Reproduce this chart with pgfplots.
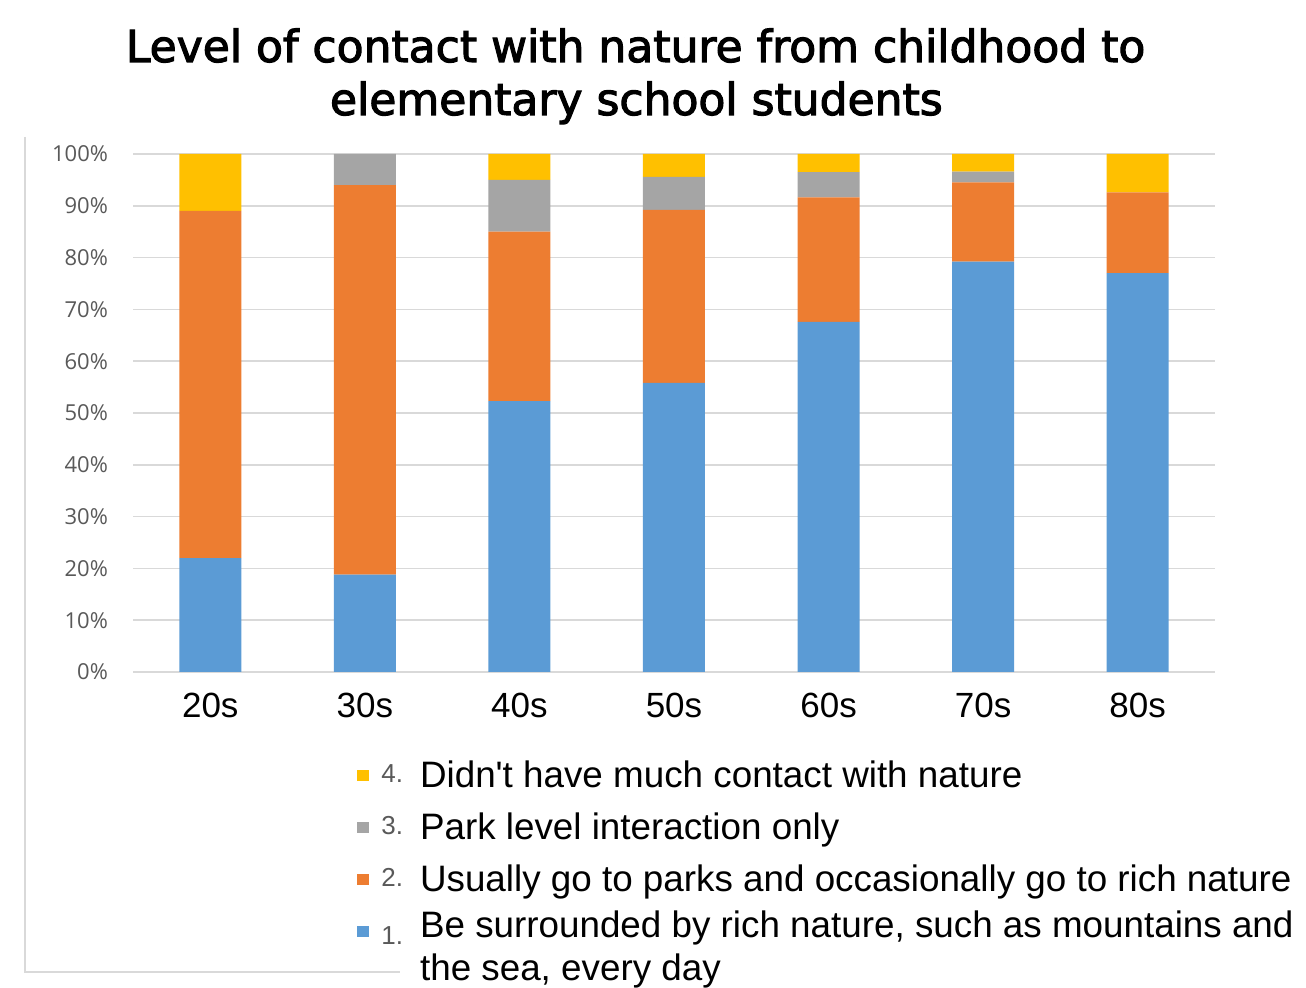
\documentclass[border=0pt]{standalone}
\usepackage{pgfplots}
\pgfplotsset{compat=1.18}
\usepackage{fontspec}
\setmainfont{Liberation Sans}
\newfontfamily\titlefont[FakeBold=2.5]{DejaVu Sans}
\newfontfamily\tickfont{Open Sans}

\definecolor{cblue}{HTML}{5B9BD5}
\definecolor{corange}{HTML}{ED7D31}
\definecolor{cgray}{HTML}{A5A5A5}
\definecolor{cyellow}{HTML}{FFC000}
\definecolor{gridc}{HTML}{D9D9D9}
\definecolor{tickc}{HTML}{595959}
\definecolor{framec}{HTML}{D9D9D9}

% small series number in front of each legend text
\newcommand{\num}[2]{\raisebox{#1}{\color{tickc}\fontsize{13}{15}\selectfont #2}\hspace{8.5pt}}
\newcommand{\lstrut}{\rule[-4.5pt]{0pt}{18pt}}

\begin{document}
\begin{tikzpicture}
\useasboundingbox (0,0) rectangle (653pt,494pt);
% chart frame
\draw[framec, line width=0.8pt] (12.5pt,425.5pt) -- (12.5pt,8pt) -- (200pt,8pt);
% title
\begin{scope}[every node/.style={anchor=base, inner sep=0pt, font=\titlefont\fontsize{22}{26}\selectfont}]
\node at (317.8pt,463pt) {Level of contact with nature from childhood to};
\node at (318.2pt,436.5pt) {elementary school students};
\end{scope}

\begin{axis}[
  at={(66.5pt,158pt)}, anchor=south west,
  scale only axis, width=541pt, height=259pt,
  ybar stacked, bar width=31pt,
  xmin=-0.5, xmax=6.5, ymin=0, ymax=100,
  xtick=data,
  xticklabels={20s,30s,40s,50s,60s,70s,80s},
  ytick={0,10,...,100},
  yticklabel={\pgfmathprintnumber{\tick}\%},
  /pgf/number format/assume math mode=true,
  ymajorgrids, grid style={gridc, line width=0.8pt},
  axis line style={draw=none},
  major tick length=0pt,
  tick style={draw=none},
  yticklabel style={font=\tickfont\fontsize{11}{13}\selectfont, color=tickc, anchor=east, xshift=-9pt},
  xticklabel style={font=\fontsize{17.5}{20}\selectfont, color=black, anchor=north, yshift=-7pt},
  legend style={at={(0.207,-0.162)}, anchor=north west, draw=none, fill=none,
    inner sep=0pt, row sep=7pt, column sep=4pt,
    font=\fontsize{18.4}{21.5}\selectfont,
    cells={anchor=west, inner sep=0pt}},
  legend cell align=left,
  reverse legend,
  legend image code/.code={\fill[#1] (0pt,-2.6pt) rectangle (6pt,2.6pt);},
]
\addplot[fill=cblue, draw=none] coordinates {(0,22) (1,18.8) (2,52.3) (3,55.8) (4,67.6) (5,79.2) (6,77.0)};
\addlegendentry{\lstrut\num{-0.5pt}{1.}\smash{\raisebox{3pt}{\begin{tabular}[t]{@{}l@{}}Be surrounded by rich nature, such as mountains and\\the sea, every day\end{tabular}}}}
\addplot[fill=corange, draw=none] coordinates {(0,67) (1,75.2) (2,32.7) (3,33.4) (4,24.0) (5,15.3) (6,15.6)};
\addlegendentry{\lstrut\num{2.5pt}{2.}Usually go to parks and occasionally go to rich nature}
\addplot[fill=cgray, draw=none] coordinates {(0,0) (1,6) (2,10) (3,6.4) (4,4.9) (5,2.1) (6,0)};
\addlegendentry{\lstrut\num{2.5pt}{3.}Park level interaction only}
\addplot[fill=cyellow, draw=none] coordinates {(0,11) (1,0) (2,5) (3,4.4) (4,3.5) (5,3.4) (6,7.4)};
\addlegendentry{\lstrut\num{2.5pt}{4.}Didn\textquotesingle t have much contact with nature}
\draw[gridc, line width=0.8pt] (axis cs:-0.5,0) -- (axis cs:6.5,0);
\end{axis}
\end{tikzpicture}
\end{document}
